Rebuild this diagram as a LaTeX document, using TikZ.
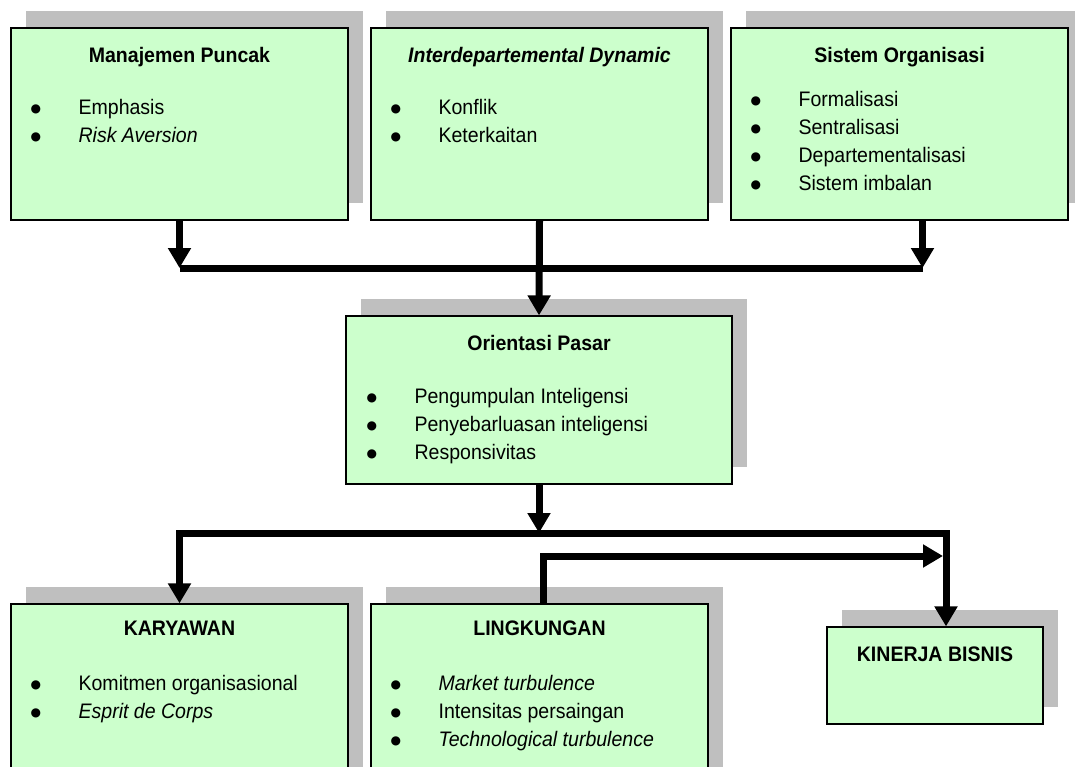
\documentclass[tikz,border=0pt]{standalone}
\usepackage{fontspec}
\setmainfont[FakeStretch=0.93]{Liberation Sans}
\newfontfamily\simbol{DejaVu Sans}
\usepackage{xcolor}
\usepackage{tikz}
\usetikzlibrary{arrows.meta,shadows}
\definecolor{hijau}{HTML}{CCFFCC}
\definecolor{bayang}{HTML}{BFBFBF}
\newcommand{\butir}[1]{\makebox[48pt][l]{\raisebox{2pt}{\simbol\fontsize{12}{12}\selectfont ●}}#1\strut}

\begin{document}
\begin{tikzpicture}[x=1pt,y=-1pt,
    every node/.style={font=\fontsize{21}{28}\selectfont},
    kotak/.style={draw,line width=1.2pt,fill=hijau,minimum width=337pt,minimum height=192pt,
      drop shadow={shadow xshift=15pt,shadow yshift=17pt,fill=bayang,opacity=1}},
    judul/.style={anchor=base,font=\fontsize{21}{28}\selectfont\bfseries},
    daftar/.style={anchor=north west,align=left,inner sep=0pt},
    garis/.style={line width=7pt},
    panah/.style={garis,line join=miter,-{Triangle[width=22pt,length=20pt]}}]
    \clip (0,0) rectangle (1075,767);
    \node[kotak] (mp) at (179.5,124) {};
    \node[kotak] (id) at (539.5,124) {};
    \node[kotak] (so) at (899.5,124) {};
    \node[kotak,minimum width=386pt,minimum height=168pt] (op) at (539,400) {};
    \node[kotak] (ky) at (179.5,700) {};
    \node[kotak] (lk) at (539.5,700) {};
    \node[kotak,minimum width=216pt,minimum height=97pt] (kb) at (935,675.5) {};

    \node[judul] (mp-j) at ([yshift=-35pt]mp.north) {Manajemen Puncak};
    \node[daftar] (mp-d) at ([xshift=20pt,yshift=-67pt]mp.north west)
      {\butir{Emphasis}\\\butir{\textit{Risk Aversion}}};
    \node[judul] (id-j) at ([yshift=-35pt]id.north) {\textit{Interdepartemental Dynamic}};
    \node[daftar] (id-d) at ([xshift=20pt,yshift=-67pt]id.north west)
      {\butir{Konflik}\\\butir{Keterkaitan}};
    \node[judul] (so-j) at ([yshift=-35pt]so.north) {Sistem Organisasi};
    \node[daftar] (so-d) at ([xshift=20pt,yshift=-59pt]so.north west)
      {\butir{Formalisasi}\\\butir{Sentralisasi}\\\butir{Departementalisasi}\\\butir{Sistem imbalan}};
    \node[judul] (op-j) at ([yshift=-35pt]op.north) {Orientasi Pasar};
    \node[daftar] (op-d) at ([xshift=21pt,yshift=-68pt]op.north west)
      {\butir{Pengumpulan Inteligensi}\\\butir{Penyebarluasan inteligensi}\\\butir{Responsivitas}};
    \node[judul] (ky-j) at ([yshift=-32pt]ky.north) {KARYAWAN};
    \node[daftar] (ky-d) at ([xshift=20pt,yshift=-67pt]ky.north west)
      {\butir{Komitmen organisasional}\\\butir{\textit{Esprit de Corps}}};
    \node[judul] (lk-j) at ([yshift=-32pt]lk.north) {LINGKUNGAN};
    \node[daftar] (lk-d) at ([xshift=20pt,yshift=-67pt]lk.north west)
      {\butir{\textit{Market turbulence}}\\\butir{Intensitas persaingan}\\\butir{\textit{Technological turbulence}}};
    \node[judul] (kb-j) at ([yshift=-35pt]kb.north) {KINERJA BISNIS};

    \coordinate (jalur1) at (0,268);
    \coordinate (jalur2) at (0,533);
    \coordinate (keluar) at ([xshift=23pt]so.south);
    \coordinate (masuk) at ([xshift=11pt]kb.north);
    \coordinate (naik) at ([xshift=4pt]lk.north);
    \coordinate (tuju) at (943,556);

    \draw[garis] (mp.south |- jalur1) -- (keluar |- jalur1);
    \draw[panah] (mp.south) -- (mp.south |- jalur1);
    \draw[panah] (keluar) -- (keluar |- jalur1);
    \draw[panah] (id.south) -- (op.north);
    \draw[panah] (op.south) -- (op.south |- jalur2);
    \draw[panah] (op.south |- jalur2) -| (ky.north);
    \draw[panah] (op.south |- jalur2) -| (masuk);
    \draw[panah] (naik) |- (tuju);
  \end{tikzpicture}
\end{document}
